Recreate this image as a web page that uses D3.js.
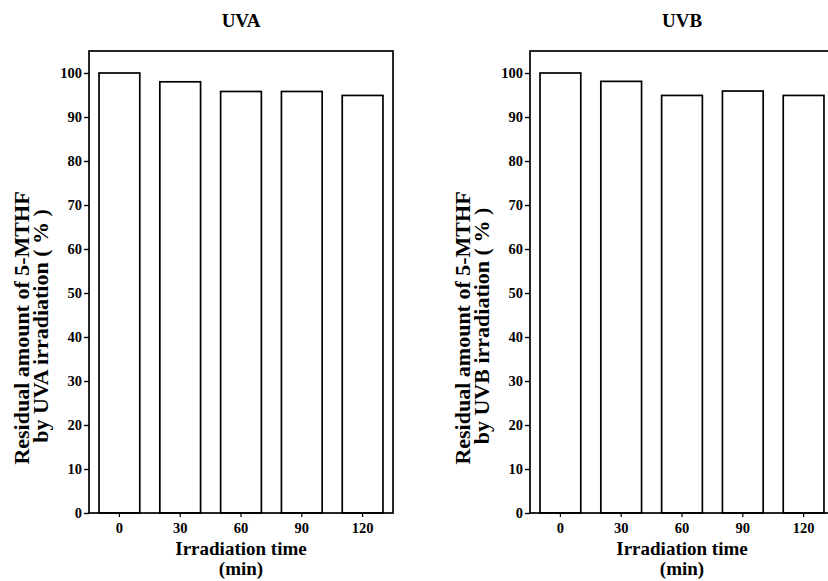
<!DOCTYPE html>
<html>
<head>
<title>Residual 5-MTHF</title>
<script src='https://cdnjs.cloudflare.com/ajax/libs/d3/7.8.5/d3.min.js'></script>
<style>
	body { margin: 0; background: white; }
	text { font-family: "Liberation Serif", "Times New Roman", serif; font-weight: bold; fill: black; }
</style>
</head>
<body>

<script>

	// data
	var times = ["0", "30", "60", "90", "120"];
	var uvaValues = [100, 98, 95.8, 95.8, 94.9];
	var uvbValues = [100, 98.1, 94.9, 95.9, 94.9];
	var yTicks = [0, 10, 20, 30, 40, 50, 60, 70, 80, 90, 100];

	var width = 828,
		height = 581;

	var svg = d3.select("body")
				.append("svg")
				.attr("width", width)
				.attr("height", height)
				.style("background-color", "white");

	var plotW = 304,
		plotH = 462,
		plotTop = 51;

	var x = d3.scaleBand()
			.domain(times)
			.range([0, plotW])
			.paddingInner(0.33)
			.paddingOuter(0.165);

	var y = d3.scaleLinear()
			.domain([0, 105])
			.range([plotH, 0]);

	function panel(left, title, values, label2) {
		var g = svg.append("g")
				.attr("transform", "translate(" + left + "," + plotTop + ")");

		// bars
		g.selectAll(".bar")
			.data(values)
			.enter()
			.append("rect")
			.attr("class", "bar")
			.attr("x", function(d, i) { return x(times[i]); })
			.attr("width", x.bandwidth())
			.attr("y", function(d) { return y(d); })
			.attr("height", function(d) { return y(0) - y(d); })
			.attr("fill", "white")
			.attr("stroke", "black")
			.attr("stroke-width", 1.7);

		// frame
		g.append("rect")
			.attr("x", 0)
			.attr("y", 0)
			.attr("width", plotW)
			.attr("height", plotH)
			.attr("fill", "none")
			.attr("stroke", "black")
			.attr("stroke-width", 1.7);

		var yAxis = g.append("g")
				.call(d3.axisLeft(y).tickValues(yTicks).tickSize(5).tickPadding(2));
		yAxis.select(".domain").remove();
		yAxis.selectAll("line").attr("stroke-width", 1.4);
		yAxis.selectAll("text").style("font-size", "14.5px");

		var xAxis = g.append("g")
				.attr("transform", "translate(0," + plotH + ")")
				.call(d3.axisBottom(x).tickSize(4).tickPadding(6));
		xAxis.select(".domain").remove();
		xAxis.selectAll("line").attr("stroke-width", 1.2);
		xAxis.selectAll("text").style("font-size", "14.5px");

		// titles
		g.append("text")
			.attr("x", plotW / 2)
			.attr("y", 27 - plotTop)
			.attr("text-anchor", "middle")
			.style("font-size", "19px")
			.text(title);

		g.append("text")
			.attr("x", plotW / 2)
			.attr("y", 555 - plotTop)
			.attr("text-anchor", "middle")
			.style("font-size", "19px")
			.text("Irradiation time");

		g.append("text")
			.attr("x", plotW / 2)
			.attr("y", 575 - plotTop)
			.attr("text-anchor", "middle")
			.style("font-size", "19px")
			.text("(min)");

		g.append("text")
			.attr("transform", "translate(" + (29 - 89) + "," + (328 - plotTop) + ") rotate(-90)")
			.attr("text-anchor", "middle")
			.style("font-size", "22px")
			.text("Residual amount of 5-MTHF");

		g.append("text")
			.attr("transform", "translate(" + (48 - 89) + "," + (326 - plotTop) + ") rotate(-90)")
			.attr("text-anchor", "middle")
			.style("font-size", "22px")
			.text(label2);
	}

	panel(89, "UVA", uvaValues, "by UVA irradiation ( % )");
	panel(530, "UVB", uvbValues, "by UVB irradiation ( % )");

</script>
</body>
</html>
